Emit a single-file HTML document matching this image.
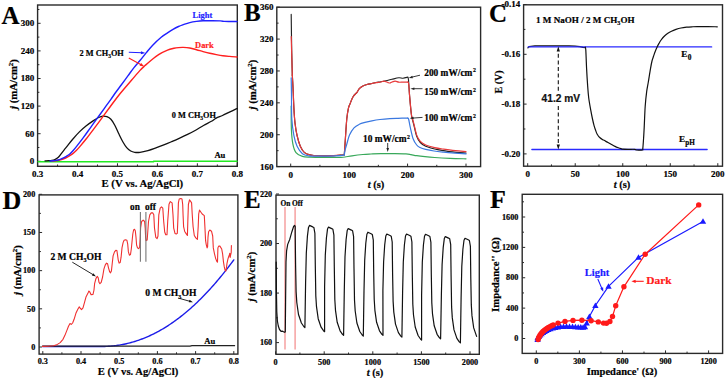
<!DOCTYPE html>
<html><head><meta charset="utf-8"><style>
html,body{margin:0;padding:0;background:#fff;width:725px;height:378px;overflow:hidden;}
svg{display:block;}
text{stroke:#000;stroke-width:.2px;}
</style></head><body>
<svg width="725" height="378" viewBox="0 0 725 378">
<rect width="725" height="378" fill="#fff"/>
<rect x="37.6" y="5" width="199.7" height="161.3" fill="none" stroke="#2a2a2a" stroke-width="1.4"/>
<line x1="37.6" y1="166.3" x2="37.6" y2="163.3" stroke="#2a2a2a" stroke-width="1"/>
<line x1="77.54" y1="166.3" x2="77.54" y2="163.3" stroke="#2a2a2a" stroke-width="1"/>
<line x1="117.48" y1="166.3" x2="117.48" y2="163.3" stroke="#2a2a2a" stroke-width="1"/>
<line x1="157.42" y1="166.3" x2="157.42" y2="163.3" stroke="#2a2a2a" stroke-width="1"/>
<line x1="197.36" y1="166.3" x2="197.36" y2="163.3" stroke="#2a2a2a" stroke-width="1"/>
<line x1="237.3" y1="166.3" x2="237.3" y2="163.3" stroke="#2a2a2a" stroke-width="1"/>
<line x1="57.57" y1="166.3" x2="57.57" y2="164.5" stroke="#2a2a2a" stroke-width="1"/>
<line x1="97.51" y1="166.3" x2="97.51" y2="164.5" stroke="#2a2a2a" stroke-width="1"/>
<line x1="137.45" y1="166.3" x2="137.45" y2="164.5" stroke="#2a2a2a" stroke-width="1"/>
<line x1="177.39" y1="166.3" x2="177.39" y2="164.5" stroke="#2a2a2a" stroke-width="1"/>
<line x1="217.33" y1="166.3" x2="217.33" y2="164.5" stroke="#2a2a2a" stroke-width="1"/>
<text x="37.6" y="177.3" font-family='"Liberation Serif", serif' font-size="9" font-weight="bold" fill="#000" text-anchor="middle" >0.3</text>
<text x="77.54" y="177.3" font-family='"Liberation Serif", serif' font-size="9" font-weight="bold" fill="#000" text-anchor="middle" >0.4</text>
<text x="117.48" y="177.3" font-family='"Liberation Serif", serif' font-size="9" font-weight="bold" fill="#000" text-anchor="middle" >0.5</text>
<text x="157.42" y="177.3" font-family='"Liberation Serif", serif' font-size="9" font-weight="bold" fill="#000" text-anchor="middle" >0.6</text>
<text x="197.36" y="177.3" font-family='"Liberation Serif", serif' font-size="9" font-weight="bold" fill="#000" text-anchor="middle" >0.7</text>
<text x="237.3" y="177.3" font-family='"Liberation Serif", serif' font-size="9" font-weight="bold" fill="#000" text-anchor="middle" >0.8</text>
<line x1="37.6" y1="161.3" x2="40.6" y2="161.3" stroke="#2a2a2a" stroke-width="1"/>
<line x1="37.6" y1="133.7" x2="40.6" y2="133.7" stroke="#2a2a2a" stroke-width="1"/>
<line x1="37.6" y1="106.1" x2="40.6" y2="106.1" stroke="#2a2a2a" stroke-width="1"/>
<line x1="37.6" y1="78.5" x2="40.6" y2="78.5" stroke="#2a2a2a" stroke-width="1"/>
<line x1="37.6" y1="50.9" x2="40.6" y2="50.9" stroke="#2a2a2a" stroke-width="1"/>
<line x1="37.6" y1="23.3" x2="40.6" y2="23.3" stroke="#2a2a2a" stroke-width="1"/>
<line x1="37.6" y1="147.5" x2="39.4" y2="147.5" stroke="#2a2a2a" stroke-width="1"/>
<line x1="37.6" y1="119.9" x2="39.4" y2="119.9" stroke="#2a2a2a" stroke-width="1"/>
<line x1="37.6" y1="92.3" x2="39.4" y2="92.3" stroke="#2a2a2a" stroke-width="1"/>
<line x1="37.6" y1="64.7" x2="39.4" y2="64.7" stroke="#2a2a2a" stroke-width="1"/>
<line x1="37.6" y1="37.1" x2="39.4" y2="37.1" stroke="#2a2a2a" stroke-width="1"/>
<line x1="37.6" y1="9.5" x2="39.4" y2="9.5" stroke="#2a2a2a" stroke-width="1"/>
<text x="34.2" y="164.27" font-family='"Liberation Serif", serif' font-size="9" font-weight="bold" fill="#000" text-anchor="end" >0</text>
<text x="34.2" y="136.67" font-family='"Liberation Serif", serif' font-size="9" font-weight="bold" fill="#000" text-anchor="end" >60</text>
<text x="34.2" y="109.07" font-family='"Liberation Serif", serif' font-size="9" font-weight="bold" fill="#000" text-anchor="end" >120</text>
<text x="34.2" y="81.47" font-family='"Liberation Serif", serif' font-size="9" font-weight="bold" fill="#000" text-anchor="end" >180</text>
<text x="34.2" y="53.87" font-family='"Liberation Serif", serif' font-size="9" font-weight="bold" fill="#000" text-anchor="end" >240</text>
<text x="34.2" y="26.27" font-family='"Liberation Serif", serif' font-size="9" font-weight="bold" fill="#000" text-anchor="end" >300</text>
<text x="1.4" y="24.3" font-family='"Liberation Serif", serif' font-size="25" font-weight="bold" fill="#000" text-anchor="start" >A</text>
<text x="142.3" y="187.1" font-family='"Liberation Serif", serif' font-size="10.75" font-weight="bold" fill="#000" text-anchor="middle" >E (V vs. Ag/AgCl)</text>
<text transform="translate(16.5,84) rotate(-90)" font-family='"Liberation Serif", serif' font-size="10.8" font-weight="bold" text-anchor="middle"><tspan font-style="italic">j</tspan> (mA/cm<tspan font-size="7" dy="-3.8">2</tspan><tspan dy="3.8">)</tspan></text>
<path d="M38.2 161.7 L153.6 161.7" fill="none" stroke="#22ea22" stroke-width="1.6" stroke-linejoin="round" stroke-linecap="round" />
<path d="M153.6 161.25 L237 161.25" fill="none" stroke="#22ea22" stroke-width="1.6" stroke-linejoin="round" stroke-linecap="round" />
<path d="M45 160.8 C45.58 160.78 47.35 160.77 48.5 160.7 C49.65 160.63 50.85 160.58 51.9 160.4 C52.95 160.22 53.88 159.98 54.8 159.6 C55.72 159.22 56.62 158.7 57.4 158.1 C58.18 157.5 58.82 156.8 59.5 156 C60.18 155.2 60.72 154.33 61.5 153.3 C62.28 152.27 63.28 150.95 64.2 149.8 C65.12 148.65 65.62 148.12 67 146.4 C68.38 144.68 70.43 141.92 72.5 139.5 C74.57 137.08 77.1 134.18 79.4 131.9 C81.7 129.62 84.02 127.63 86.3 125.8 C88.58 123.97 91.05 122.28 93.1 120.9 C95.15 119.52 96.97 118.3 98.6 117.5 C100.23 116.7 101.52 116.23 102.9 116.1 C104.28 115.97 105.57 116.17 106.9 116.7 C108.23 117.23 109.58 117.88 110.9 119.3 C112.22 120.72 113.48 122.78 114.8 125.2 C116.12 127.62 117.47 131.05 118.8 133.8 C120.13 136.55 121.48 139.4 122.8 141.7 C124.12 144 125.38 146.05 126.7 147.6 C128.02 149.15 129.37 150.22 130.7 151 C132.03 151.78 133.15 152.08 134.7 152.3 C136.25 152.52 137.8 152.58 140 152.3 C142.2 152.02 145.25 151.33 147.9 150.6 C150.55 149.87 153.25 148.85 155.9 147.9 C158.55 146.95 161.17 145.95 163.8 144.9 C166.43 143.85 169.05 142.73 171.7 141.6 C174.35 140.47 177.05 139.3 179.7 138.1 C182.35 136.9 184.95 135.72 187.6 134.4 C190.25 133.08 192.95 131.68 195.6 130.2 C198.25 128.72 200.87 126.98 203.5 125.5 C206.13 124.02 209.28 122.53 211.4 121.3 C213.52 120.07 214.35 119.07 216.2 118.1 C218.05 117.13 220.38 116.47 222.5 115.5 C224.62 114.53 226.78 113.33 228.9 112.3 C231.02 111.27 233.8 109.93 235.2 109.3 C236.6 108.67 236.95 108.63 237.3 108.5" fill="none" stroke="#111" stroke-width="1.3" stroke-linejoin="round" stroke-linecap="round" />
<path d="M52 161 C52.58 160.97 54.37 160.92 55.5 160.8 C56.63 160.68 57.67 160.53 58.8 160.3 C59.93 160.07 61.17 159.78 62.3 159.4 C63.43 159.02 64.48 158.53 65.6 158 C66.72 157.47 67.85 156.88 69 156.2 C70.15 155.52 71.33 154.8 72.5 153.9 C73.67 153 74.85 151.93 76 150.8 C77.15 149.67 77.68 149.1 79.4 147.1 C81.12 145.1 84.02 141.67 86.3 138.8 C88.58 135.93 90.82 132.93 93.1 129.9 C95.38 126.87 98.07 123.22 100 120.6 C101.93 117.98 103.1 116.38 104.7 114.2 C106.3 112.02 107.92 109.78 109.6 107.5 C111.28 105.22 113.13 102.7 114.8 100.5 C116.47 98.3 118 96.3 119.6 94.3 C121.2 92.3 122.35 90.92 124.4 88.5 C126.45 86.08 129.33 82.78 131.9 79.8 C134.47 76.82 137.62 72.97 139.8 70.6 C141.98 68.23 143.2 67.25 145 65.6 C146.8 63.95 148.27 62.57 150.6 60.7 C152.93 58.83 156.18 56.17 159 54.4 C161.82 52.63 165.02 51.12 167.5 50.1 C169.98 49.08 172.07 48.72 173.9 48.3 C175.73 47.88 176.95 47.75 178.5 47.6 C180.05 47.45 181.32 47.33 183.2 47.4 C185.08 47.47 187.58 47.62 189.8 48 C192.02 48.38 194.28 49.1 196.5 49.7 C198.72 50.3 200.9 51 203.1 51.6 C205.3 52.2 207.5 52.8 209.7 53.3 C211.9 53.8 214.1 54.2 216.3 54.6 C218.5 55 220.7 55.4 222.9 55.7 C225.1 56 227.15 56.18 229.5 56.4 C231.85 56.62 235.75 56.9 237 57" fill="none" stroke="#ff1f1f" stroke-width="1.4" stroke-linejoin="round" stroke-linecap="round" />
<path d="M50 161 C50.5 160.97 52 160.9 53 160.8 C54 160.7 54.92 160.6 56 160.4 C57.08 160.2 58.35 159.98 59.5 159.6 C60.65 159.22 61.75 158.65 62.9 158.1 C64.05 157.55 65.25 156.98 66.4 156.3 C67.55 155.62 68.67 154.97 69.8 154 C70.93 153.03 72.07 151.77 73.2 150.5 C74.33 149.23 74.88 148.58 76.6 146.4 C78.32 144.22 81.2 140.5 83.5 137.4 C85.8 134.3 88.1 131 90.4 127.8 C92.7 124.6 95 121.4 97.3 118.2 C99.6 115 101.93 111.75 104.2 108.6 C106.47 105.45 108.93 102.07 110.9 99.3 C112.87 96.53 114.28 94.38 116 92 C117.72 89.62 119.22 87.68 121.2 85 C123.18 82.32 125.77 78.8 127.9 75.9 C130.03 73 131.95 70.2 134 67.6 C136.05 65 138.15 62.8 140.2 60.3 C142.25 57.8 144.22 55.12 146.3 52.6 C148.38 50.08 150.22 47.75 152.7 45.2 C155.18 42.65 158.73 39.35 161.2 37.3 C163.67 35.25 165.53 34.22 167.5 32.9 C169.47 31.58 171.17 30.47 173 29.4 C174.83 28.33 176.8 27.28 178.5 26.5 C180.2 25.72 181.32 25.35 183.2 24.7 C185.08 24.05 187.58 23.15 189.8 22.6 C192.02 22.05 194.28 21.7 196.5 21.4 C198.72 21.1 200.9 20.9 203.1 20.8 C205.3 20.7 206.83 20.78 209.7 20.8 C212.57 20.82 217.83 20.8 220.3 20.9 C222.77 21 222.88 21.3 224.5 21.4 C226.12 21.5 227.92 21.48 230 21.5 C232.08 21.52 235.83 21.5 237 21.5" fill="none" stroke="#1f1fff" stroke-width="1.4" stroke-linejoin="round" stroke-linecap="round" />
<text x="192.6" y="17.7" font-family='"Liberation Serif", serif' font-size="8.9" font-weight="bold" fill="#1f1fff" text-anchor="start" style="stroke:#1f1fff" textLength="19.8" lengthAdjust="spacingAndGlyphs">Light</text>
<text x="195.1" y="48.1" font-family='"Liberation Serif", serif' font-size="8.9" font-weight="bold" fill="#ff1f1f" text-anchor="start" style="stroke:#ff1f1f" textLength="18.7" lengthAdjust="spacingAndGlyphs">Dark</text>
<text x="79.6" y="55.5" font-family='"Liberation Serif", serif' font-size="9" font-weight="bold" textLength="44.2" lengthAdjust="spacingAndGlyphs">2 M CH<tspan font-size="6" dy="2">3</tspan><tspan dy="-2">OH</tspan></text>
<text x="171.8" y="118" font-family='"Liberation Serif", serif' font-size="9" font-weight="bold" textLength="44.2" lengthAdjust="spacingAndGlyphs">0 M CH<tspan font-size="6" dy="2">3</tspan><tspan dy="-2">OH</tspan></text>
<text x="214.4" y="158.3" font-family='"Liberation Serif", serif' font-size="8.6" font-weight="bold" fill="#000" text-anchor="start" >Au</text>
<line x1="128.8" y1="52.3" x2="142.25" y2="52.79" stroke="#1f1fff" stroke-width="1.1"/>
<path d="M145.4 52.9 L140.85 54.34 L140.96 51.14 Z" fill="#1f1fff"/>
<line x1="128.8" y1="57.9" x2="141.55" y2="65.06" stroke="#ff1f1f" stroke-width="1.1"/>
<path d="M144.3 66.6 L139.59 65.79 L141.16 63 Z" fill="#ff1f1f"/>
<rect x="276.8" y="7.2" width="203.8" height="159.4" fill="none" stroke="#2a2a2a" stroke-width="1.4"/>
<line x1="290.7" y1="166.6" x2="290.7" y2="163.6" stroke="#2a2a2a" stroke-width="1"/>
<line x1="349.13" y1="166.6" x2="349.13" y2="163.6" stroke="#2a2a2a" stroke-width="1"/>
<line x1="407.57" y1="166.6" x2="407.57" y2="163.6" stroke="#2a2a2a" stroke-width="1"/>
<line x1="466" y1="166.6" x2="466" y2="163.6" stroke="#2a2a2a" stroke-width="1"/>
<line x1="319.92" y1="166.6" x2="319.92" y2="164.8" stroke="#2a2a2a" stroke-width="1"/>
<line x1="378.35" y1="166.6" x2="378.35" y2="164.8" stroke="#2a2a2a" stroke-width="1"/>
<line x1="436.78" y1="166.6" x2="436.78" y2="164.8" stroke="#2a2a2a" stroke-width="1"/>
<text x="290.7" y="177.6" font-family='"Liberation Serif", serif' font-size="9" font-weight="bold" fill="#000" text-anchor="middle" >0</text>
<text x="349.13" y="177.6" font-family='"Liberation Serif", serif' font-size="9" font-weight="bold" fill="#000" text-anchor="middle" >100</text>
<text x="407.57" y="177.6" font-family='"Liberation Serif", serif' font-size="9" font-weight="bold" fill="#000" text-anchor="middle" >200</text>
<text x="466" y="177.6" font-family='"Liberation Serif", serif' font-size="9" font-weight="bold" fill="#000" text-anchor="middle" >300</text>
<line x1="276.8" y1="166.6" x2="279.8" y2="166.6" stroke="#2a2a2a" stroke-width="1"/>
<line x1="276.8" y1="134.72" x2="279.8" y2="134.72" stroke="#2a2a2a" stroke-width="1"/>
<line x1="276.8" y1="102.84" x2="279.8" y2="102.84" stroke="#2a2a2a" stroke-width="1"/>
<line x1="276.8" y1="70.96" x2="279.8" y2="70.96" stroke="#2a2a2a" stroke-width="1"/>
<line x1="276.8" y1="39.08" x2="279.8" y2="39.08" stroke="#2a2a2a" stroke-width="1"/>
<line x1="276.8" y1="7.2" x2="279.8" y2="7.2" stroke="#2a2a2a" stroke-width="1"/>
<line x1="276.8" y1="150.66" x2="278.6" y2="150.66" stroke="#2a2a2a" stroke-width="1"/>
<line x1="276.8" y1="118.78" x2="278.6" y2="118.78" stroke="#2a2a2a" stroke-width="1"/>
<line x1="276.8" y1="86.9" x2="278.6" y2="86.9" stroke="#2a2a2a" stroke-width="1"/>
<line x1="276.8" y1="55.02" x2="278.6" y2="55.02" stroke="#2a2a2a" stroke-width="1"/>
<line x1="276.8" y1="23.14" x2="278.6" y2="23.14" stroke="#2a2a2a" stroke-width="1"/>
<text x="273.4" y="169.57" font-family='"Liberation Serif", serif' font-size="9" font-weight="bold" fill="#000" text-anchor="end" >160</text>
<text x="273.4" y="137.69" font-family='"Liberation Serif", serif' font-size="9" font-weight="bold" fill="#000" text-anchor="end" >200</text>
<text x="273.4" y="105.81" font-family='"Liberation Serif", serif' font-size="9" font-weight="bold" fill="#000" text-anchor="end" >240</text>
<text x="273.4" y="73.93" font-family='"Liberation Serif", serif' font-size="9" font-weight="bold" fill="#000" text-anchor="end" >280</text>
<text x="273.4" y="42.05" font-family='"Liberation Serif", serif' font-size="9" font-weight="bold" fill="#000" text-anchor="end" >320</text>
<text x="273.4" y="10.17" font-family='"Liberation Serif", serif' font-size="9" font-weight="bold" fill="#000" text-anchor="end" >360</text>
<text x="244" y="21" font-family='"Liberation Serif", serif' font-size="25" font-weight="bold" fill="#000" text-anchor="start" >B</text>
<text x="376" y="188.2" font-family='"Liberation Serif", serif' font-size="10.5" font-weight="bold" text-anchor="middle"><tspan font-style="italic">t</tspan> (s)</text>
<text transform="translate(256,84.5) rotate(-90)" font-family='"Liberation Serif", serif' font-size="10.8" font-weight="bold" text-anchor="middle"><tspan font-style="italic">j</tspan> (mA/cm<tspan font-size="7" dy="-3.8">2</tspan><tspan dy="3.8">)</tspan></text>
<rect x="523.6" y="4.8" width="198.9" height="161.4" fill="none" stroke="#2a2a2a" stroke-width="1.4"/>
<line x1="527.7" y1="166.2" x2="527.7" y2="163.2" stroke="#2a2a2a" stroke-width="1"/>
<line x1="575.23" y1="166.2" x2="575.23" y2="163.2" stroke="#2a2a2a" stroke-width="1"/>
<line x1="622.75" y1="166.2" x2="622.75" y2="163.2" stroke="#2a2a2a" stroke-width="1"/>
<line x1="670.27" y1="166.2" x2="670.27" y2="163.2" stroke="#2a2a2a" stroke-width="1"/>
<line x1="717.8" y1="166.2" x2="717.8" y2="163.2" stroke="#2a2a2a" stroke-width="1"/>
<line x1="551.46" y1="166.2" x2="551.46" y2="164.4" stroke="#2a2a2a" stroke-width="1"/>
<line x1="598.99" y1="166.2" x2="598.99" y2="164.4" stroke="#2a2a2a" stroke-width="1"/>
<line x1="646.51" y1="166.2" x2="646.51" y2="164.4" stroke="#2a2a2a" stroke-width="1"/>
<line x1="694.04" y1="166.2" x2="694.04" y2="164.4" stroke="#2a2a2a" stroke-width="1"/>
<text x="527.7" y="177.2" font-family='"Liberation Serif", serif' font-size="9" font-weight="bold" fill="#000" text-anchor="middle" >0</text>
<text x="575.23" y="177.2" font-family='"Liberation Serif", serif' font-size="9" font-weight="bold" fill="#000" text-anchor="middle" >50</text>
<text x="622.75" y="177.2" font-family='"Liberation Serif", serif' font-size="9" font-weight="bold" fill="#000" text-anchor="middle" >100</text>
<text x="670.27" y="177.2" font-family='"Liberation Serif", serif' font-size="9" font-weight="bold" fill="#000" text-anchor="middle" >150</text>
<text x="717.8" y="177.2" font-family='"Liberation Serif", serif' font-size="9" font-weight="bold" fill="#000" text-anchor="middle" >200</text>
<line x1="523.6" y1="153.9" x2="526.6" y2="153.9" stroke="#2a2a2a" stroke-width="1"/>
<line x1="523.6" y1="104.1" x2="526.6" y2="104.1" stroke="#2a2a2a" stroke-width="1"/>
<line x1="523.6" y1="54.3" x2="526.6" y2="54.3" stroke="#2a2a2a" stroke-width="1"/>
<line x1="523.6" y1="4.5" x2="526.6" y2="4.5" stroke="#2a2a2a" stroke-width="1"/>
<line x1="523.6" y1="129" x2="525.4" y2="129" stroke="#2a2a2a" stroke-width="1"/>
<line x1="523.6" y1="79.2" x2="525.4" y2="79.2" stroke="#2a2a2a" stroke-width="1"/>
<line x1="523.6" y1="29.4" x2="525.4" y2="29.4" stroke="#2a2a2a" stroke-width="1"/>
<text x="520.2" y="156.87" font-family='"Liberation Serif", serif' font-size="9" font-weight="bold" fill="#000" text-anchor="end" >-0.20</text>
<text x="520.2" y="107.07" font-family='"Liberation Serif", serif' font-size="9" font-weight="bold" fill="#000" text-anchor="end" >-0.18</text>
<text x="520.2" y="57.27" font-family='"Liberation Serif", serif' font-size="9" font-weight="bold" fill="#000" text-anchor="end" >-0.16</text>
<text x="520.2" y="7.47" font-family='"Liberation Serif", serif' font-size="9" font-weight="bold" fill="#000" text-anchor="end" >-0.14</text>
<text x="489" y="22" font-family='"Liberation Serif", serif' font-size="25" font-weight="bold" fill="#000" text-anchor="start" >C</text>
<text x="622" y="188.2" font-family='"Liberation Serif", serif' font-size="10.5" font-weight="bold" text-anchor="middle"><tspan font-style="italic">t</tspan> (s)</text>
<text transform="translate(501.5,82) rotate(-90)" font-family='"Liberation Serif", serif' font-size="10" font-weight="bold" text-anchor="middle">E (V)</text>
<rect x="39.1" y="194.9" width="198.8" height="159.2" fill="none" stroke="#2a2a2a" stroke-width="1.4"/>
<line x1="42.8" y1="354.1" x2="42.8" y2="351.1" stroke="#2a2a2a" stroke-width="1"/>
<line x1="81" y1="354.1" x2="81" y2="351.1" stroke="#2a2a2a" stroke-width="1"/>
<line x1="119.2" y1="354.1" x2="119.2" y2="351.1" stroke="#2a2a2a" stroke-width="1"/>
<line x1="157.4" y1="354.1" x2="157.4" y2="351.1" stroke="#2a2a2a" stroke-width="1"/>
<line x1="195.6" y1="354.1" x2="195.6" y2="351.1" stroke="#2a2a2a" stroke-width="1"/>
<line x1="233.8" y1="354.1" x2="233.8" y2="351.1" stroke="#2a2a2a" stroke-width="1"/>
<line x1="61.9" y1="354.1" x2="61.9" y2="352.3" stroke="#2a2a2a" stroke-width="1"/>
<line x1="100.1" y1="354.1" x2="100.1" y2="352.3" stroke="#2a2a2a" stroke-width="1"/>
<line x1="138.3" y1="354.1" x2="138.3" y2="352.3" stroke="#2a2a2a" stroke-width="1"/>
<line x1="176.5" y1="354.1" x2="176.5" y2="352.3" stroke="#2a2a2a" stroke-width="1"/>
<line x1="214.7" y1="354.1" x2="214.7" y2="352.3" stroke="#2a2a2a" stroke-width="1"/>
<text x="42.8" y="364.4" font-family='"Liberation Serif", serif' font-size="8.2" font-weight="bold" fill="#000" text-anchor="middle" >0.3</text>
<text x="81" y="364.4" font-family='"Liberation Serif", serif' font-size="8.2" font-weight="bold" fill="#000" text-anchor="middle" >0.4</text>
<text x="119.2" y="364.4" font-family='"Liberation Serif", serif' font-size="8.2" font-weight="bold" fill="#000" text-anchor="middle" >0.5</text>
<text x="157.4" y="364.4" font-family='"Liberation Serif", serif' font-size="8.2" font-weight="bold" fill="#000" text-anchor="middle" >0.6</text>
<text x="195.6" y="364.4" font-family='"Liberation Serif", serif' font-size="8.2" font-weight="bold" fill="#000" text-anchor="middle" >0.7</text>
<text x="233.8" y="364.4" font-family='"Liberation Serif", serif' font-size="8.2" font-weight="bold" fill="#000" text-anchor="middle" >0.8</text>
<line x1="39.1" y1="347" x2="42.1" y2="347" stroke="#2a2a2a" stroke-width="1"/>
<line x1="39.1" y1="308.82" x2="42.1" y2="308.82" stroke="#2a2a2a" stroke-width="1"/>
<line x1="39.1" y1="270.65" x2="42.1" y2="270.65" stroke="#2a2a2a" stroke-width="1"/>
<line x1="39.1" y1="232.47" x2="42.1" y2="232.47" stroke="#2a2a2a" stroke-width="1"/>
<line x1="39.1" y1="194.3" x2="42.1" y2="194.3" stroke="#2a2a2a" stroke-width="1"/>
<line x1="39.1" y1="327.91" x2="40.9" y2="327.91" stroke="#2a2a2a" stroke-width="1"/>
<line x1="39.1" y1="289.74" x2="40.9" y2="289.74" stroke="#2a2a2a" stroke-width="1"/>
<line x1="39.1" y1="251.56" x2="40.9" y2="251.56" stroke="#2a2a2a" stroke-width="1"/>
<line x1="39.1" y1="213.39" x2="40.9" y2="213.39" stroke="#2a2a2a" stroke-width="1"/>
<text x="35.3" y="349.71" font-family='"Liberation Serif", serif' font-size="8.2" font-weight="bold" fill="#000" text-anchor="end" >0</text>
<text x="35.3" y="311.53" font-family='"Liberation Serif", serif' font-size="8.2" font-weight="bold" fill="#000" text-anchor="end" >50</text>
<text x="35.3" y="273.36" font-family='"Liberation Serif", serif' font-size="8.2" font-weight="bold" fill="#000" text-anchor="end" >100</text>
<text x="35.3" y="235.18" font-family='"Liberation Serif", serif' font-size="8.2" font-weight="bold" fill="#000" text-anchor="end" >150</text>
<text x="35.3" y="197.01" font-family='"Liberation Serif", serif' font-size="8.2" font-weight="bold" fill="#000" text-anchor="end" >200</text>
<text x="2.6" y="209.2" font-family='"Liberation Serif", serif' font-size="26" font-weight="bold" fill="#000" text-anchor="start" >D</text>
<text x="138" y="374.8" font-family='"Liberation Serif", serif' font-size="10.6" font-weight="bold" fill="#000" text-anchor="middle" >E (V vs. Ag/AgCl)</text>
<text transform="translate(20.5,270) rotate(-90)" font-family='"Liberation Serif", serif' font-size="10.8" font-weight="bold" text-anchor="middle"><tspan font-style="italic">j</tspan> (mA/cm<tspan font-size="7" dy="-3.8">2</tspan><tspan dy="3.8">)</tspan></text>
<rect x="276" y="195.1" width="203.3" height="159.2" fill="none" stroke="#2a2a2a" stroke-width="1.4"/>
<line x1="275.6" y1="354.3" x2="275.6" y2="351.3" stroke="#2a2a2a" stroke-width="1"/>
<line x1="324.2" y1="354.3" x2="324.2" y2="351.3" stroke="#2a2a2a" stroke-width="1"/>
<line x1="372.8" y1="354.3" x2="372.8" y2="351.3" stroke="#2a2a2a" stroke-width="1"/>
<line x1="421.4" y1="354.3" x2="421.4" y2="351.3" stroke="#2a2a2a" stroke-width="1"/>
<line x1="470" y1="354.3" x2="470" y2="351.3" stroke="#2a2a2a" stroke-width="1"/>
<line x1="299.9" y1="354.3" x2="299.9" y2="352.5" stroke="#2a2a2a" stroke-width="1"/>
<line x1="348.5" y1="354.3" x2="348.5" y2="352.5" stroke="#2a2a2a" stroke-width="1"/>
<line x1="397.1" y1="354.3" x2="397.1" y2="352.5" stroke="#2a2a2a" stroke-width="1"/>
<line x1="445.7" y1="354.3" x2="445.7" y2="352.5" stroke="#2a2a2a" stroke-width="1"/>
<text x="275.6" y="364.8" font-family='"Liberation Serif", serif' font-size="8.2" font-weight="bold" fill="#000" text-anchor="middle" >0</text>
<text x="324.2" y="364.8" font-family='"Liberation Serif", serif' font-size="8.2" font-weight="bold" fill="#000" text-anchor="middle" >500</text>
<text x="372.8" y="364.8" font-family='"Liberation Serif", serif' font-size="8.2" font-weight="bold" fill="#000" text-anchor="middle" >1000</text>
<text x="421.4" y="364.8" font-family='"Liberation Serif", serif' font-size="8.2" font-weight="bold" fill="#000" text-anchor="middle" >1500</text>
<text x="470" y="364.8" font-family='"Liberation Serif", serif' font-size="8.2" font-weight="bold" fill="#000" text-anchor="middle" >2000</text>
<line x1="276" y1="342.6" x2="279" y2="342.6" stroke="#2a2a2a" stroke-width="1"/>
<line x1="276" y1="293.07" x2="279" y2="293.07" stroke="#2a2a2a" stroke-width="1"/>
<line x1="276" y1="243.53" x2="279" y2="243.53" stroke="#2a2a2a" stroke-width="1"/>
<line x1="276" y1="194" x2="279" y2="194" stroke="#2a2a2a" stroke-width="1"/>
<line x1="276" y1="317.83" x2="277.8" y2="317.83" stroke="#2a2a2a" stroke-width="1"/>
<line x1="276" y1="268.3" x2="277.8" y2="268.3" stroke="#2a2a2a" stroke-width="1"/>
<line x1="276" y1="218.77" x2="277.8" y2="218.77" stroke="#2a2a2a" stroke-width="1"/>
<text x="272.2" y="345.31" font-family='"Liberation Serif", serif' font-size="8.2" font-weight="bold" fill="#000" text-anchor="end" >160</text>
<text x="272.2" y="295.77" font-family='"Liberation Serif", serif' font-size="8.2" font-weight="bold" fill="#000" text-anchor="end" >180</text>
<text x="272.2" y="246.24" font-family='"Liberation Serif", serif' font-size="8.2" font-weight="bold" fill="#000" text-anchor="end" >200</text>
<text x="272.2" y="196.71" font-family='"Liberation Serif", serif' font-size="8.2" font-weight="bold" fill="#000" text-anchor="end" >220</text>
<text x="244" y="208" font-family='"Liberation Serif", serif' font-size="25" font-weight="bold" fill="#000" text-anchor="start" >E</text>
<text x="375" y="375.8" font-family='"Liberation Serif", serif' font-size="10.5" font-weight="bold" text-anchor="middle"><tspan font-style="italic">t</tspan> (s)</text>
<text transform="translate(255,276.5) rotate(-90)" font-family='"Liberation Serif", serif' font-size="10.8" font-weight="bold" text-anchor="middle"><tspan font-style="italic">j</tspan> (mA/cm<tspan font-size="7" dy="-3.8">2</tspan><tspan dy="3.8">)</tspan></text>
<rect x="522.2" y="194.3" width="200.4" height="159.1" fill="none" stroke="#2a2a2a" stroke-width="1.4"/>
<line x1="536.3" y1="353.4" x2="536.3" y2="350.4" stroke="#2a2a2a" stroke-width="1"/>
<line x1="579.38" y1="353.4" x2="579.38" y2="350.4" stroke="#2a2a2a" stroke-width="1"/>
<line x1="622.45" y1="353.4" x2="622.45" y2="350.4" stroke="#2a2a2a" stroke-width="1"/>
<line x1="665.52" y1="353.4" x2="665.52" y2="350.4" stroke="#2a2a2a" stroke-width="1"/>
<line x1="708.6" y1="353.4" x2="708.6" y2="350.4" stroke="#2a2a2a" stroke-width="1"/>
<line x1="557.84" y1="353.4" x2="557.84" y2="351.6" stroke="#2a2a2a" stroke-width="1"/>
<line x1="600.91" y1="353.4" x2="600.91" y2="351.6" stroke="#2a2a2a" stroke-width="1"/>
<line x1="643.99" y1="353.4" x2="643.99" y2="351.6" stroke="#2a2a2a" stroke-width="1"/>
<line x1="687.06" y1="353.4" x2="687.06" y2="351.6" stroke="#2a2a2a" stroke-width="1"/>
<text x="536.3" y="364.4" font-family='"Liberation Serif", serif' font-size="8.2" font-weight="bold" fill="#000" text-anchor="middle" >0</text>
<text x="579.38" y="364.4" font-family='"Liberation Serif", serif' font-size="8.2" font-weight="bold" fill="#000" text-anchor="middle" >300</text>
<text x="622.45" y="364.4" font-family='"Liberation Serif", serif' font-size="8.2" font-weight="bold" fill="#000" text-anchor="middle" >600</text>
<text x="665.52" y="364.4" font-family='"Liberation Serif", serif' font-size="8.2" font-weight="bold" fill="#000" text-anchor="middle" >900</text>
<text x="708.6" y="364.4" font-family='"Liberation Serif", serif' font-size="8.2" font-weight="bold" fill="#000" text-anchor="middle" >1200</text>
<line x1="522.2" y1="338.5" x2="525.2" y2="338.5" stroke="#2a2a2a" stroke-width="1"/>
<line x1="522.2" y1="308.12" x2="525.2" y2="308.12" stroke="#2a2a2a" stroke-width="1"/>
<line x1="522.2" y1="277.75" x2="525.2" y2="277.75" stroke="#2a2a2a" stroke-width="1"/>
<line x1="522.2" y1="247.38" x2="525.2" y2="247.38" stroke="#2a2a2a" stroke-width="1"/>
<line x1="522.2" y1="217" x2="525.2" y2="217" stroke="#2a2a2a" stroke-width="1"/>
<line x1="522.2" y1="323.31" x2="524" y2="323.31" stroke="#2a2a2a" stroke-width="1"/>
<line x1="522.2" y1="292.94" x2="524" y2="292.94" stroke="#2a2a2a" stroke-width="1"/>
<line x1="522.2" y1="262.56" x2="524" y2="262.56" stroke="#2a2a2a" stroke-width="1"/>
<line x1="522.2" y1="232.19" x2="524" y2="232.19" stroke="#2a2a2a" stroke-width="1"/>
<line x1="522.2" y1="201.81" x2="524" y2="201.81" stroke="#2a2a2a" stroke-width="1"/>
<text x="518.4" y="341.21" font-family='"Liberation Serif", serif' font-size="8.2" font-weight="bold" fill="#000" text-anchor="end" >0</text>
<text x="518.4" y="310.83" font-family='"Liberation Serif", serif' font-size="8.2" font-weight="bold" fill="#000" text-anchor="end" >400</text>
<text x="518.4" y="280.46" font-family='"Liberation Serif", serif' font-size="8.2" font-weight="bold" fill="#000" text-anchor="end" >800</text>
<text x="518.4" y="250.08" font-family='"Liberation Serif", serif' font-size="8.2" font-weight="bold" fill="#000" text-anchor="end" >1200</text>
<text x="518.4" y="219.71" font-family='"Liberation Serif", serif' font-size="8.2" font-weight="bold" fill="#000" text-anchor="end" >1600</text>
<text x="490" y="208.2" font-family='"Liberation Serif", serif' font-size="26" font-weight="bold" fill="#000" text-anchor="start" >F</text>
<text x="622" y="375.3" font-family='"Liberation Serif", serif' font-size="10.5" font-weight="bold" fill="#000" text-anchor="middle" >Impedance' (&#937;)</text>
<text transform="translate(499,274.5) rotate(-90)" font-family='"Liberation Serif", serif' font-size="10.7" font-weight="bold" text-anchor="middle">Impedance'' (&#937;)</text>
<path d="M291.2 106 C291.23 109.88 291.12 122.95 291.4 129.3 C291.68 135.65 292.13 140.22 292.9 144.1 C293.67 147.98 294.42 150.55 296 152.6 C297.58 154.65 300.07 155.63 302.4 156.4 C304.73 157.17 307.18 157.05 310 157.2 C312.82 157.35 315.97 157.27 319.3 157.3 C322.63 157.33 326.47 157.4 330 157.4 C333.53 157.4 338 157.37 340.5 157.3 C343 157.23 343.08 157.25 345 157 C346.92 156.75 349.02 156.22 352 155.8 C354.98 155.38 359.73 154.8 362.9 154.5 C366.07 154.2 368 154.15 371 154 C374 153.85 376.9 153.67 380.9 153.6 C384.9 153.53 390.82 153.55 395 153.6 C399.18 153.65 403.33 153.73 406 153.9 C408.67 154.07 409.22 154.3 411 154.6 C412.78 154.9 414.37 155.35 416.7 155.7 C419.03 156.05 422 156.4 425 156.7 C428 157 430.53 157.23 434.7 157.5 C438.87 157.77 444.78 158.08 450 158.3 C455.22 158.52 463.33 158.72 466 158.8" fill="none" stroke="#38a85a" stroke-width="1.2" stroke-linejoin="round" stroke-linecap="round" />
<path d="M291.2 14.4 C291.28 20.33 291.52 39.9 291.7 50 C291.88 60.1 292.2 70.83 292.3 75" fill="none" stroke="#222" stroke-width="1.15" stroke-linejoin="round" stroke-linecap="round" />
<path d="M292.3 75 C292.42 77 292.73 81.47 293 87 C293.27 92.53 293.57 102.2 293.9 108.2 C294.23 114.2 294.47 118.42 295 123 C295.53 127.58 296.22 131.82 297.1 135.7 C297.98 139.58 299.07 143.48 300.3 146.3 C301.53 149.12 302.73 151.13 304.5 152.6 C306.27 154.07 308.43 154.57 310.9 155.1 C313.37 155.63 316.13 155.68 319.3 155.8 C322.47 155.92 326.37 155.92 329.9 155.8 C333.43 155.68 338.1 155.28 340.5 155.1 C342.9 154.92 343.67 154.77 344.3 154.7" fill="none" stroke="#222" stroke-width="1.15" stroke-linejoin="round" stroke-linecap="round" />
<path d="M344.3 154.7 C344.47 152.25 344.88 146 345.3 140 C345.72 134 346.27 124.03 346.8 118.7 C347.33 113.37 347.97 110.47 348.5 108 C349.03 105.53 349.22 105.82 350 103.9 C350.78 101.98 352.03 98.43 353.2 96.5 C354.37 94.57 355.98 93.6 357 92.3 C358.02 91 358.32 89.75 359.3 88.7 C360.28 87.65 361.62 86.7 362.9 86 C364.18 85.3 365.5 84.92 367 84.5 C368.5 84.08 370.4 83.83 371.9 83.5 C373.4 83.17 374.5 82.78 376 82.5 C377.5 82.22 379.23 82.08 380.9 81.8 C382.57 81.52 384.15 81.22 386 80.8 C387.85 80.38 389.87 79.8 392 79.3 C394.13 78.8 396.97 77.98 398.8 77.8 C400.63 77.62 401.5 78.3 403 78.2 C404.5 78.1 407 77.37 407.8 77.2" fill="none" stroke="#222" stroke-width="1.15" stroke-linejoin="round" stroke-linecap="round" />
<path d="M407.8 77.2 C407.92 77.67 408.2 76.88 408.5 80 C408.8 83.12 409.13 90.27 409.6 95.9 C410.07 101.53 410.87 110.03 411.3 113.8 C411.73 117.57 411.75 116.55 412.2 118.5 C412.65 120.45 413.25 122.53 414 125.5 C414.75 128.47 415.65 133.47 416.7 136.3 C417.75 139.13 418.8 140.83 420.3 142.5 C421.8 144.17 423.3 145.22 425.7 146.3 C428.1 147.38 431.72 148.28 434.7 149 C437.68 149.72 440.62 150.12 443.6 150.6 C446.58 151.08 448.87 151.5 452.6 151.9 C456.33 152.3 463.77 152.82 466 153" fill="none" stroke="#222" stroke-width="1.15" stroke-linejoin="round" stroke-linecap="round" />
<path d="M291.2 36.6 L292.3 75" fill="none" stroke="#e8393a" stroke-width="1.2" stroke-linejoin="round" stroke-linecap="round" />
<path d="M292.3 75 C292.42 77 292.73 81.47 293 87 C293.27 92.53 293.57 102.2 293.9 108.2 C294.23 114.2 294.47 118.42 295 123 C295.53 127.58 296.22 131.82 297.1 135.7 C297.98 139.58 299.07 143.48 300.3 146.3 C301.53 149.12 302.73 151.13 304.5 152.6 C306.27 154.07 308.43 154.57 310.9 155.1 C313.37 155.63 316.13 155.68 319.3 155.8 C322.47 155.92 326.37 155.92 329.9 155.8 C333.43 155.68 338.1 155.28 340.5 155.1 C342.9 154.92 343.67 154.77 344.3 154.7" fill="none" stroke="#e8393a" stroke-width="1.2" stroke-linejoin="round" stroke-linecap="round" />
<path d="M344.3 154.7 C344.47 152.25 344.88 146 345.3 140 C345.72 134 346.27 124.03 346.8 118.7 C347.33 113.37 347.97 110.47 348.5 108 C349.03 105.53 349.22 105.82 350 103.9 C350.78 101.98 352.03 98.43 353.2 96.5 C354.37 94.57 355.98 93.6 357 92.3 C358.02 91 358.32 89.75 359.3 88.7 C360.28 87.65 361.62 86.7 362.9 86 C364.18 85.3 365.5 84.92 367 84.5 C368.5 84.08 370.4 83.82 371.9 83.5 C373.4 83.18 374.5 82.85 376 82.6 C377.5 82.35 379.57 82.25 380.9 82 C382.23 81.75 382.82 81 384 81.1 C385.18 81.2 387 82.28 388 82.6 C389 82.92 389.33 83.1 390 83 C390.67 82.9 391.13 82.3 392 82 C392.87 81.7 394.07 81.17 395.2 81.2 C396.33 81.23 397.5 82.05 398.8 82.2 C400.1 82.35 401.5 82.12 403 82.1 C404.5 82.08 407 82.1 407.8 82.1" fill="none" stroke="#e8393a" stroke-width="1.2" stroke-linejoin="round" stroke-linecap="round" />
<path d="M407.8 82.1 C407.95 82.42 408.4 81.7 408.7 84 C409 86.3 409.17 90.93 409.6 95.9 C410.03 100.87 410.87 110.12 411.3 113.8 C411.73 117.48 411.75 116.25 412.2 118 C412.65 119.75 413.25 121.45 414 124.3 C414.75 127.15 415.65 132.25 416.7 135.1 C417.75 137.95 418.8 139.75 420.3 141.4 C421.8 143.05 423.3 143.95 425.7 145 C428.1 146.05 431.72 147 434.7 147.7 C437.68 148.4 440.62 148.77 443.6 149.2 C446.58 149.63 448.87 149.9 452.6 150.3 C456.33 150.7 463.77 151.38 466 151.6" fill="none" stroke="#e8393a" stroke-width="1.2" stroke-linejoin="round" stroke-linecap="round" />
<path d="M291.2 77.9 L291.5 95" fill="none" stroke="#3a78e0" stroke-width="1.2" stroke-linejoin="round" stroke-linecap="round" />
<path d="M291.5 95 C291.55 98.95 291.4 111.92 291.8 118.7 C292.2 125.48 293.02 131.1 293.9 135.7 C294.78 140.3 295.68 143.3 297.1 146.3 C298.52 149.3 300.47 152.12 302.4 153.7 C304.33 155.28 305.77 155.4 308.7 155.8 C311.63 156.2 316.45 156.05 320 156.1 C323.55 156.15 326.67 156.18 330 156.1 C333.33 156.02 337.62 155.78 340 155.6 C342.38 155.42 343.58 155.1 344.3 155" fill="none" stroke="#3a78e0" stroke-width="1.2" stroke-linejoin="round" stroke-linecap="round" />
<path d="M344.3 155 C344.42 154.22 344.58 152.12 345 150.3 C345.42 148.48 346.05 146.63 346.8 144.1 C347.55 141.57 348.3 137.8 349.5 135.1 C350.7 132.4 352.37 129.7 354 127.9 C355.63 126.1 357.47 125.22 359.3 124.3 C361.13 123.38 362.9 122.98 365 122.4 C367.1 121.82 369.4 121.28 371.9 120.8 C374.4 120.32 377.02 119.87 380 119.5 C382.98 119.13 386.8 118.8 389.8 118.6 C392.8 118.4 395 118.38 398 118.3 C401 118.22 406.17 118.13 407.8 118.1" fill="none" stroke="#3a78e0" stroke-width="1.2" stroke-linejoin="round" stroke-linecap="round" />
<path d="M407.8 118.1 C407.95 118.33 408.27 117.87 408.7 119.5 C409.13 121.13 409.67 124.7 410.4 127.9 C411.13 131.1 412.05 135.85 413.1 138.7 C414.15 141.55 415.55 143.53 416.7 145 C417.85 146.47 418.5 146.77 420 147.5 C421.5 148.23 423.37 148.82 425.7 149.4 C428.03 149.98 431.02 150.55 434 151 C436.98 151.45 440.1 151.75 443.6 152.1 C447.1 152.45 451.27 152.8 455 153.1 C458.73 153.4 464.17 153.77 466 153.9" fill="none" stroke="#3a78e0" stroke-width="1.2" stroke-linejoin="round" stroke-linecap="round" />
<text x="424.2" y="76.2" font-family='"Liberation Serif", serif' font-size="9.4" font-weight="bold" fill="#000" text-anchor="start">200 mW/cm<tspan font-size="5.83" dx="0.6" dy="-3.76">2</tspan></text>
<text x="424.2" y="95.3" font-family='"Liberation Serif", serif' font-size="9.4" font-weight="bold" fill="#000" text-anchor="start">150 mW/cm<tspan font-size="5.83" dx="0.6" dy="-3.76">2</tspan></text>
<text x="424.2" y="121.3" font-family='"Liberation Serif", serif' font-size="9.4" font-weight="bold" fill="#000" text-anchor="start">100 mW/cm<tspan font-size="5.83" dx="0.6" dy="-3.76">2</tspan></text>
<text x="363" y="142.3" font-family='"Liberation Serif", serif' font-size="9.4" font-weight="bold" fill="#000" text-anchor="start">10 mW/cm<tspan font-size="5.83" dx="0.6" dy="-3.76">2</tspan></text>
<line x1="420" y1="75.2" x2="411.42" y2="77.25" stroke="#222" stroke-width="0.9"/>
<path d="M408.7 77.9 L412.29 75.71 L412.89 78.23 Z" fill="#222"/>
<line x1="422.5" y1="88.7" x2="413.2" y2="88.7" stroke="#222" stroke-width="0.9"/>
<path d="M410.4 88.7 L414.4 87.4 L414.4 90 Z" fill="#222"/>
<line x1="422.5" y1="117.4" x2="412.39" y2="118.11" stroke="#222" stroke-width="0.9"/>
<path d="M409.6 118.3 L413.5 116.72 L413.68 119.32 Z" fill="#222"/>
<line x1="387.7" y1="143" x2="387.7" y2="149.3" stroke="#222" stroke-width="0.9"/>
<path d="M387.7 152.1 L386.4 148.1 L389 148.1 Z" fill="#222"/>
<path d="M527.9 47.8 L529 46.6 L535 45.8 L569 45.8 L575 46.2 L580 46.6 L583 47.4 L585.3 47.6" fill="none" stroke="#111" stroke-width="1.2" stroke-linejoin="round" stroke-linecap="round" />
<path d="M528.3 46.9 L711.6 46.9" fill="none" stroke="#2a2aff" stroke-width="1.4" stroke-linejoin="round" stroke-linecap="round" />
<path d="M531.9 149.5 L707.1 149.5" fill="none" stroke="#2a2aff" stroke-width="1.4" stroke-linejoin="round" stroke-linecap="round" />
<path d="M585.3 47.2 C585.38 47.67 585.58 46.43 585.8 50 C586.02 53.57 586.3 62.77 586.6 68.6 C586.9 74.43 587.25 80.15 587.6 85 C587.95 89.85 588.17 93.47 588.7 97.7 C589.23 101.93 590.17 106.85 590.8 110.4 C591.43 113.95 591.97 116.52 592.5 119 C593.03 121.48 593.5 123.47 594 125.3 C594.5 127.13 594.97 128.52 595.5 130 C596.03 131.48 596.45 132.9 597.2 134.2 C597.95 135.5 598.95 136.82 600 137.8 C601.05 138.78 602.17 139.32 603.5 140.1 C604.83 140.88 606.58 141.73 608 142.5 C609.42 143.27 610.83 144.05 612 144.7 C613.17 145.35 613.95 145.88 615 146.4 C616.05 146.92 617.3 147.42 618.3 147.8 C619.3 148.18 620.22 148.48 621 148.7 C621.78 148.92 621.83 149 623 149.1 C624.17 149.2 626.05 149.27 628 149.3 C629.95 149.33 633.23 149.18 634.7 149.3 C636.17 149.42 635.53 149.88 636.8 150 C638.07 150.12 641.3 150.23 642.3 150 C643.3 149.77 642.58 150.6 642.8 148.6 C643.02 146.6 643.37 141.53 643.6 138 C643.83 134.47 643.93 132.7 644.2 127.4 C644.47 122.1 644.78 112.2 645.2 106.2 C645.62 100.2 646.17 95.52 646.7 91.4 C647.23 87.28 647.77 85.3 648.4 81.5 C649.03 77.7 649.9 72.02 650.5 68.6 C651.1 65.18 651.47 63.13 652 61 C652.53 58.87 653.15 57.43 653.7 55.8 C654.25 54.17 654.77 52.6 655.3 51.2 C655.83 49.8 656.28 48.7 656.9 47.4 C657.52 46.1 658.3 44.63 659 43.4 C659.7 42.17 660.27 41.15 661.1 40 C661.93 38.85 662.93 37.57 664 36.5 C665.07 35.43 666.25 34.48 667.5 33.6 C668.75 32.72 670.08 31.9 671.5 31.2 C672.92 30.5 674.42 29.93 676 29.4 C677.58 28.87 679.23 28.37 681 28 C682.77 27.63 684.77 27.4 686.6 27.2 C688.43 27 690.23 26.9 692 26.8 C693.77 26.7 694.58 26.63 697.2 26.6 C699.82 26.57 704.35 26.57 707.7 26.6 C711.05 26.63 715.7 26.77 717.3 26.8" fill="none" stroke="#111" stroke-width="1.2" stroke-linejoin="round" stroke-linecap="round" />
<line x1="558.3" y1="53.8" x2="558.3" y2="91" stroke="#111" stroke-width="1.1" stroke-dasharray="4 2.6"/>
<line x1="558.3" y1="106" x2="558.3" y2="143" stroke="#111" stroke-width="1.1" stroke-dasharray="4 2.6"/>
<path d="M558.3 46.6 L559.95 51.6 L556.65 51.6 Z" fill="#111"/>
<path d="M558.3 149.4 L556.65 144.4 L559.95 144.4 Z" fill="#111"/>
<text x="541.6" y="101.8" font-family='"Liberation Sans", sans-serif' font-size="10.2" font-weight="bold" fill="#111" text-anchor="start" style="stroke:#111" >41.2 mV</text>
<text x="536" y="23" font-family='"Liberation Serif", serif' font-size="9.1" font-weight="bold">1 M NaOH / 2 M CH<tspan font-size="6.2" dy="2">3</tspan><tspan dy="-2">OH</tspan></text>
<text x="681.2" y="56.9" font-family='"Liberation Serif", serif' font-size="9.2" font-weight="bold">E<tspan font-size="7.4" dx="0.5" dy="2.6">0</tspan></text>
<text x="679" y="142.4" font-family='"Liberation Serif", serif' font-size="9.2" font-weight="bold">E<tspan font-size="7.2" dy="2.4">pH</tspan></text>
<path d="M42.8 346.54 L43.99 346.54 L45.19 346.54 L46.38 346.54 L47.58 346.54 L48.77 346.54 L49.96 346.54 L51.16 346.54 L52.35 346.54 L53.54 346.54 L54.74 346.54 L55.93 346.54 L57.12 346.54 L58.32 346.54 L59.51 346.54 L60.71 346.54 L61.9 346.54 L63.09 346.54 L64.29 346.54 L65.48 346.54 L66.67 346.54 L67.87 346.54 L69.06 346.54 L70.26 346.54 L71.45 346.54 L72.64 346.54 L73.84 346.54 L75.03 346.54 L76.22 346.54 L77.42 346.54 L78.61 346.54 L79.81 346.54 L81 346.54 L82.19 346.54 L83.39 346.54 L84.58 346.54 L85.77 346.54 L86.97 346.54 L88.16 346.54 L89.36 346.54 L90.55 346.54 L91.74 346.54 L92.94 346.54 L94.13 346.54 L95.33 346.54 L96.52 346.54 L97.71 346.54 L98.91 346.54 L100.1 346.54 L101.29 346.54 L102.49 346.52 L103.68 346.5 L104.88 346.46 L106.07 346.42 L107.26 346.36 L108.46 346.29 L109.65 346.2 L110.84 346.11 L112.04 346 L113.23 345.88 L114.42 345.75 L115.62 345.6 L116.81 345.44 L118.01 345.27 L119.2 345.09 L120.39 344.89 L121.59 344.68 L122.78 344.45 L123.97 344.22 L125.17 343.97 L126.36 343.7 L127.56 343.42 L128.75 343.13 L129.94 342.83 L131.14 342.51 L132.33 342.17 L133.52 341.83 L134.72 341.47 L135.91 341.09 L137.11 340.7 L138.3 340.3 L139.49 339.88 L140.69 339.45 L141.88 339.01 L143.07 338.55 L144.27 338.08 L145.46 337.59 L146.66 337.09 L147.85 336.57 L149.04 336.04 L150.24 335.5 L151.43 334.94 L152.62 334.36 L153.82 333.77 L155.01 333.17 L156.21 332.55 L157.4 331.92 L158.59 331.27 L159.79 330.61 L160.98 329.93 L162.18 329.24 L163.37 328.54 L164.56 327.82 L165.76 327.08 L166.95 326.33 L168.14 325.56 L169.34 324.78 L170.53 323.99 L171.72 323.18 L172.92 322.35 L174.11 321.51 L175.31 320.66 L176.5 319.79 L177.69 318.9 L178.89 318 L180.08 317.09 L181.27 316.16 L182.47 315.21 L183.66 314.25 L184.86 313.27 L186.05 312.28 L187.24 311.27 L188.44 310.25 L189.63 309.21 L190.82 308.16 L192.02 307.09 L193.21 306.01 L194.41 304.91 L195.6 303.8 L196.79 302.67 L197.99 301.52 L199.18 300.36 L200.37 299.18 L201.57 297.99 L202.76 296.78 L203.96 295.56 L205.15 294.32 L206.34 293.07 L207.54 291.8 L208.73 290.52 L209.93 289.21 L211.12 287.9 L212.31 286.57 L213.51 285.22 L214.7 283.85 L215.89 282.48 L217.09 281.08 L218.28 279.67 L219.47 278.24 L220.67 276.8 L221.86 275.34 L223.06 273.87 L224.25 272.38 L225.44 270.87 L226.64 269.35 L227.83 267.82 L229.02 266.26 L230.22 264.69 L231.41 263.11 L232.61 261.51 L233.8 259.89" fill="none" stroke="#1c1ce8" stroke-width="1.4" stroke-linejoin="round" stroke-linecap="round" />
<path d="M42.5 346.1 L190 346.1 L192 345.7 L234.6 345.7" fill="none" stroke="#222" stroke-width="1.2" stroke-linejoin="round" stroke-linecap="round" />
<path d="M42.4 346.4 L48 346.2 L53.7 345.7 L57.4 344.4 L60.2 342.6 L63 339.3 L64.8 335.6 L66.7 330.9 L68.5 326.3 L70 323.5 L71.3 324.4 L72.6 323 L74.1 319.3 L75.9 313.3 L77.8 309.3 L79.3 306.9 L80.2 308.1 L81.5 309.6 L83 307.8 L84.8 301.3 L86.1 296.7 L88 293 L88.9 291.1 L89.8 292 L91.1 294.8 L93 294.4 L94 290 L94.6 283.7 L96 278.4 L97.3 276.4 L98.2 277.7 L99 282.3 L99.9 283.7 L101.2 282.3 L102.6 277 L103.9 269.1 L105.2 265.1 L106.5 263.1 L107.6 263.8 L108.5 267.8 L109.6 271.7 L110.5 272.8 L111.4 271.1 L112.2 263.8 L113.1 255.9 L114.5 251.9 L115.8 250.3 L116.9 250.6 L117.5 254.6 L118.2 259.8 L119.1 263.1 L120.2 262.5 L121.1 257.2 L122 247.9 L123.1 242.6 L124.1 240.2 L125.5 239.8 L126.9 240.3 L127.7 244 L128.4 251.9 L129.4 255.2 L130.5 254.5 L131.3 249 L132 242 L132.8 234 L133.6 230 L134.5 229.3 L135.3 230.7 L136 237.3 L136.6 245 L137.5 247.8 L138.6 248.6 L139.6 247.5 L140.2 238 L140.6 228 L141.6 221.5 L143.2 220.1 L144.6 221.5 L145.2 228.1 L145.6 237.3 L146.1 240.6 L147.2 240 L148.5 221.5 L149.8 214.8 L151.2 212.9 L152.8 212.9 L153.8 214.8 L154.5 228.1 L155.8 237.3 L157.1 238.7 L158 236 L158.8 214.8 L160.2 208.2 L161.5 206.9 L162.8 208.2 L163.7 221.5 L164.7 232 L165.7 234.7 L167 234.7 L167.7 221.5 L169 204.3 L170.3 201.6 L172.1 202.9 L173 214.8 L173.7 228.1 L175 233.4 L176.3 234 L177.3 233.4 L177.9 218.8 L178.4 202.9 L179.2 199 L180.8 198.5 L182 199 L182.7 204.5 L183.1 215.6 L183.6 226.7 L184.7 231.5 L186.3 233.9 L187.4 235.5 L187.9 218.8 L188.4 204.5 L189.5 199.8 L190.6 201.3 L191.6 202.9 L192.2 214 L193.1 226.7 L194.3 235.5 L195.8 237.9 L197.4 239.4 L198.2 226.7 L198.7 214 L199.5 210.1 L200.6 211.7 L202.2 214 L204.3 215.6 L204.9 226.7 L205.6 240.7 L206.2 244.3 L207.1 247.9 L207.6 246.7 L208 237.1 L208.6 231.8 L209.8 230 L211.5 231.2 L212.7 236 L213.3 247.9 L214.5 253.8 L215.7 258.6 L216.9 261.5 L217.5 262.1 L217.9 247.9 L218.7 246.1 L219.9 246.1 L221.7 249 L222.6 253.8 L223.5 262.1 L224.3 266.9 L225 269.9 L225.8 271.1 L226.4 268.1 L227 263.3 L227.9 259.2 L228.6 256.8 L229.2 255.6 L229.8 253.2 L230.2 257.4 L230.6 255 L231.2 252.6 L231.4 245.5" fill="none" stroke="#f03030" stroke-width="1.1" stroke-linejoin="round" stroke-linecap="round" />
<line x1="140.4" y1="212" x2="140.4" y2="261.7" stroke="#777" stroke-width="1.1"/>
<line x1="145.9" y1="212" x2="145.9" y2="261.7" stroke="#777" stroke-width="1.1"/>
<text x="130" y="210.4" font-family='"Liberation Serif", serif' font-size="9.3" font-weight="bold" fill="#000" text-anchor="start" >on</text>
<text x="145" y="210.4" font-family='"Liberation Serif", serif' font-size="9.3" font-weight="bold" fill="#000" text-anchor="start" >off</text>
<text x="50.4" y="259.8" font-family='"Liberation Serif", serif' font-size="9.6" font-weight="bold">2 M CH<tspan font-size="6.2" dy="2.6">3</tspan><tspan dy="-2.6">OH</tspan></text>
<text x="145.3" y="295.9" font-family='"Liberation Serif", serif' font-size="9.6" font-weight="bold">0 M CH<tspan font-size="6.2" dy="2.8">3</tspan><tspan dy="-2.8">OH</tspan></text>
<text x="204.2" y="344.2" font-family='"Liberation Serif", serif' font-size="8.6" font-weight="bold" fill="#000" text-anchor="start" >Au</text>
<line x1="72.3" y1="262.2" x2="93.6" y2="274.96" stroke="#111" stroke-width="0.9"/>
<path d="M96 276.4 L91.9 275.46 L93.24 273.23 Z" fill="#111"/>
<line x1="178.4" y1="298.1" x2="190.3" y2="301.44" stroke="#111" stroke-width="0.9"/>
<path d="M193 302.2 L188.8 302.37 L189.5 299.87 Z" fill="#111"/>
<line x1="285" y1="206.9" x2="285" y2="349.5" stroke="#f59a9a" stroke-width="1.4"/>
<line x1="295.1" y1="206.9" x2="295.1" y2="349.5" stroke="#f59a9a" stroke-width="1.4"/>
<path d="M276.2 262 L276.4 290 L276.8 312 L277.4 321 L278.3 326 L279.5 329.5 L281.3 331.5 L282.6 331.2 L283.5 331.8 L284.5 332.3 L285.3 331.9 L285.6 300 L286 262 L286.6 250.8 L287.7 244.4 L289.8 239.2 L291.9 231.7 L293.6 226.5 L294.6 225.4 L295.2 226.5 L295.2 233.4 L295.6 265.4 L296.1 291.5 L296.8 302.5 L298.5 314.5 L301.4 323 L303.8 326.5 L304.9 327.5 L305.6 282.5 L306.3 253.4 L307.4 236.4 L308.5 227.4 L309.5 225.4 L312.7 226.9 L313.9 227.6 L314.9 233.4 L315.3 265.4 L315.8 295.7 L316.5 306.7 L318.2 318.7 L321.1 327.2 L323.5 330.7 L324.6 331.7 L324.6 286.7 L325.3 255.1 L326.4 238.1 L327.5 229.1 L328.5 227.1 L331.7 228.6 L332.9 229.3 L333.9 235.1 L334.3 267.1 L334.8 299.3 L335.5 310.3 L337.2 322.3 L340.1 330.8 L342.5 334.3 L343.6 335.3 L344.3 290.3 L345 256.6 L346.1 239.6 L347.2 230.6 L348.2 228.6 L351.4 230.1 L352.6 230.8 L353.6 236.6 L354 268.6 L354.5 300 L355.2 311 L356.9 323 L359.8 331.5 L362.2 335 L363.3 336 L364 291 L364.7 260.2 L365.8 243.2 L366.9 234.2 L367.9 232.2 L371.1 233.7 L372.3 234.4 L373.3 240.2 L373.7 272.2 L374.2 299.3 L374.9 310.3 L376.6 322.3 L379.5 330.8 L381.9 334.3 L383 335.3 L382.9 290.3 L383.6 262 L384.7 245 L385.8 236 L386.8 234 L390 235.5 L391.2 236.2 L392.2 242 L392.6 274 L393.1 301.1 L393.8 312.1 L395.5 324.1 L398.4 332.6 L400.8 336.1 L401.9 337.1 L402.6 292.1 L403.3 262 L404.4 245 L405.5 236 L406.5 234 L409.7 235.5 L410.9 236.2 L411.9 242 L412.3 274 L412.8 304 L413.5 315 L415.2 327 L418.1 335.5 L420.5 339 L421.6 340 L421.6 295 L422.3 262.3 L423.4 245.3 L424.5 236.3 L425.5 234.3 L428.7 235.8 L429.9 236.5 L430.9 242.3 L431.3 274.3 L431.8 302.8 L432.5 313.8 L434.2 325.8 L437.1 334.3 L439.5 337.8 L440.6 338.8 L441.4 293.8 L442.1 264.6 L443.2 247.6 L444.3 238.6 L445.3 236.6 L448.5 238.1 L449.7 238.8 L450.7 244.6 L451.1 276.6 L451.6 306.9 L452.3 317.9 L454 329.9 L456.9 338.4 L459.3 341.9 L460.4 342.9 L461.1 297.9 L461.8 266.3 L462.9 249.3 L464 240.3 L465 238.3 L468.2 239.8 L469.4 240.5 L470.4 246.3 L470.8 278.3 L471.3 304.9 L472 315.9 L473.7 327.9 L476.6 336.4" fill="none" stroke="#111" stroke-width="1.2" stroke-linejoin="round" stroke-linecap="round" />
<text x="280.4" y="205.6" font-family='"Liberation Serif", serif' font-size="7.4" font-weight="bold" fill="#000" text-anchor="start" >On</text>
<text x="292" y="205.6" font-family='"Liberation Serif", serif' font-size="7.4" font-weight="bold" fill="#000" text-anchor="start" >Off</text>
<path d="M537.6 339.6 L537.6 337.9 L538.8 336.5 L540.1 335.1 L541.5 333.9 L543 332.7 L544.6 331.6 L546.4 330.6 L548.3 329.7 L550.4 328.9 L552.7 328.2 L555.2 327.6 L557.8 327.1 L560.6 326.7 L563.5 326.5 L566.5 326.4 L569.5 326.5 L572.5 326.6 L575.4 326.8 L578.2 327 L580.8 327.2 L583.1 327.3 L585 326.9 L586.7 323.1 L589.4 316.5 L595.4 305.5 L608.5 286.4 L638.5 257.4 L703 221.4" fill="none" stroke="#1a1aff" stroke-width="1.2" stroke-linejoin="round" stroke-linecap="round" />
<path d="M538.1 339.6 L538.6 338 L539.2 336.6 L540 335.2 L540.9 333.9 L541.9 332.7 L543 331.5 L544.2 330.4 L545.5 329.4 L546.9 328.4 L548.4 327.5 L550 326.6 L551.6 325.8 L553.2 325 L558 323.1 L565 321.4 L573 320.4 L581.9 320.2 L591.1 320.7 L598.3 321.9 L603.5 323.1 L606.5 323.2 L609.9 321.5 L612.5 316.5 L615.7 305.8 L623.9 286.8 L645.2 254.2 L698.7 204.9" fill="none" stroke="#ff1a1a" stroke-width="1.2" stroke-linejoin="round" stroke-linecap="round" />
<path d="M537.6 336.5 L540.8 342 L534.4 342 Z" fill="#1a1aff"/>
<path d="M537.6 334.8 L540.8 340.3 L534.4 340.3 Z" fill="#1a1aff"/>
<path d="M538.8 333.4 L542 338.9 L535.6 338.9 Z" fill="#1a1aff"/>
<path d="M540.1 332 L543.3 337.5 L536.9 337.5 Z" fill="#1a1aff"/>
<path d="M541.5 330.8 L544.7 336.3 L538.3 336.3 Z" fill="#1a1aff"/>
<path d="M543 329.6 L546.2 335.1 L539.8 335.1 Z" fill="#1a1aff"/>
<path d="M544.6 328.5 L547.8 334 L541.4 334 Z" fill="#1a1aff"/>
<path d="M546.4 327.5 L549.6 333 L543.2 333 Z" fill="#1a1aff"/>
<path d="M548.3 326.6 L551.5 332.1 L545.1 332.1 Z" fill="#1a1aff"/>
<path d="M550.4 325.8 L553.6 331.3 L547.2 331.3 Z" fill="#1a1aff"/>
<path d="M552.7 325.1 L555.9 330.6 L549.5 330.6 Z" fill="#1a1aff"/>
<path d="M555.2 324.5 L558.4 330 L552 330 Z" fill="#1a1aff"/>
<path d="M557.8 324 L561 329.5 L554.6 329.5 Z" fill="#1a1aff"/>
<path d="M560.6 323.6 L563.8 329.1 L557.4 329.1 Z" fill="#1a1aff"/>
<path d="M563.5 323.4 L566.7 328.9 L560.3 328.9 Z" fill="#1a1aff"/>
<path d="M566.5 323.3 L569.7 328.8 L563.3 328.8 Z" fill="#1a1aff"/>
<path d="M569.5 323.4 L572.7 328.9 L566.3 328.9 Z" fill="#1a1aff"/>
<path d="M572.5 323.5 L575.7 329 L569.3 329 Z" fill="#1a1aff"/>
<path d="M575.4 323.7 L578.6 329.2 L572.2 329.2 Z" fill="#1a1aff"/>
<path d="M578.2 323.9 L581.4 329.4 L575 329.4 Z" fill="#1a1aff"/>
<path d="M580.8 324.1 L584 329.6 L577.6 329.6 Z" fill="#1a1aff"/>
<path d="M583.1 324.2 L586.3 329.7 L579.9 329.7 Z" fill="#1a1aff"/>
<path d="M585 323.8 L588.2 329.3 L581.8 329.3 Z" fill="#1a1aff"/>
<path d="M586.7 320 L589.9 325.5 L583.5 325.5 Z" fill="#1a1aff"/>
<path d="M589.4 313.4 L592.6 318.9 L586.2 318.9 Z" fill="#1a1aff"/>
<path d="M595.4 302.4 L598.6 307.9 L592.2 307.9 Z" fill="#1a1aff"/>
<path d="M608.5 283.3 L611.7 288.8 L605.3 288.8 Z" fill="#1a1aff"/>
<path d="M638.5 254.3 L641.7 259.8 L635.3 259.8 Z" fill="#1a1aff"/>
<path d="M703 218.3 L706.2 223.8 L699.8 223.8 Z" fill="#1a1aff"/>
<circle cx="538.1" cy="339.6" r="2.7" fill="#ff1a1a"/>
<circle cx="538.6" cy="338" r="2.7" fill="#ff1a1a"/>
<circle cx="539.2" cy="336.6" r="2.7" fill="#ff1a1a"/>
<circle cx="540" cy="335.2" r="2.7" fill="#ff1a1a"/>
<circle cx="540.9" cy="333.9" r="2.7" fill="#ff1a1a"/>
<circle cx="541.9" cy="332.7" r="2.7" fill="#ff1a1a"/>
<circle cx="543" cy="331.5" r="2.7" fill="#ff1a1a"/>
<circle cx="544.2" cy="330.4" r="2.7" fill="#ff1a1a"/>
<circle cx="545.5" cy="329.4" r="2.7" fill="#ff1a1a"/>
<circle cx="546.9" cy="328.4" r="2.7" fill="#ff1a1a"/>
<circle cx="548.4" cy="327.5" r="2.7" fill="#ff1a1a"/>
<circle cx="550" cy="326.6" r="2.7" fill="#ff1a1a"/>
<circle cx="551.6" cy="325.8" r="2.7" fill="#ff1a1a"/>
<circle cx="553.2" cy="325" r="2.7" fill="#ff1a1a"/>
<circle cx="558" cy="323.1" r="2.7" fill="#ff1a1a"/>
<circle cx="565" cy="321.4" r="2.7" fill="#ff1a1a"/>
<circle cx="573" cy="320.4" r="2.7" fill="#ff1a1a"/>
<circle cx="581.9" cy="320.2" r="2.7" fill="#ff1a1a"/>
<circle cx="591.1" cy="320.7" r="2.7" fill="#ff1a1a"/>
<circle cx="598.3" cy="321.9" r="2.7" fill="#ff1a1a"/>
<circle cx="603.5" cy="323.1" r="2.7" fill="#ff1a1a"/>
<circle cx="606.5" cy="323.2" r="2.7" fill="#ff1a1a"/>
<circle cx="609.9" cy="321.5" r="2.7" fill="#ff1a1a"/>
<circle cx="612.5" cy="316.5" r="2.7" fill="#ff1a1a"/>
<circle cx="615.7" cy="305.8" r="2.7" fill="#ff1a1a"/>
<circle cx="623.9" cy="286.8" r="2.7" fill="#ff1a1a"/>
<circle cx="645.2" cy="254.2" r="2.7" fill="#ff1a1a"/>
<circle cx="698.7" cy="204.9" r="2.7" fill="#ff1a1a"/>
<text x="584.8" y="276" font-family='"Liberation Serif", serif' font-size="10.8" font-weight="bold" fill="#1a1aff" text-anchor="start" style="stroke:#1a1aff" textLength="24.4" lengthAdjust="spacingAndGlyphs">Light</text>
<text x="646.3" y="284.2" font-family='"Liberation Serif", serif' font-size="11.2" font-weight="bold" fill="#ff1a1a" text-anchor="start" style="stroke:#ff1a1a" textLength="25.3" lengthAdjust="spacingAndGlyphs">Dark</text>
<line x1="597.8" y1="279" x2="602.14" y2="289.1" stroke="#1a1aff" stroke-width="1.1"/>
<path d="M603.3 291.8 L600.17 288.57 L603.11 287.31 Z" fill="#1a1aff"/>
<line x1="643.7" y1="281.3" x2="634.34" y2="281.3" stroke="#ff1a1a" stroke-width="1.1"/>
<path d="M631.4 281.3 L635.6 279.7 L635.6 282.9 Z" fill="#ff1a1a"/>
</svg>
</body></html>
